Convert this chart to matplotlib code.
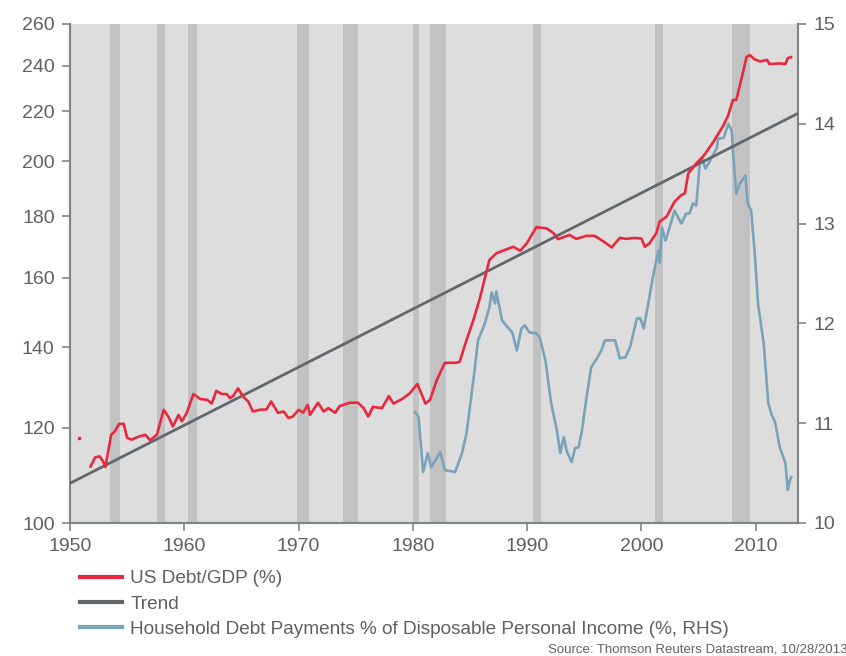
# US debt/GDP vs trend, with household debt payments on the right axis
import matplotlib
matplotlib.use('Agg')
import matplotlib.pyplot as plt
from matplotlib.lines import Line2D
from matplotlib.ticker import FixedLocator, FixedFormatter, NullLocator

plt.rcParams['font.family'] = ['Liberation Sans', 'DejaVu Sans']

# US Debt/GDP (%)
debt_years = [1951.8, 1952.2, 1952.6, 1952.9, 1953.1, 1953.6, 1953.9, 1954.3, 1954.7, 1955.0,
              1955.4, 1956.0, 1956.6, 1957.0, 1957.6, 1958.2, 1958.6, 1959.0, 1959.5, 1959.8,
              1960.2, 1960.8, 1961.4, 1962.0, 1962.4, 1962.8, 1963.3, 1963.7, 1964.0, 1964.3,
              1964.7, 1965.2, 1965.6, 1966.0, 1966.6, 1967.2, 1967.6, 1968.2, 1968.7, 1969.1,
              1969.5, 1970.0, 1970.4, 1970.8, 1971.0, 1971.7, 1972.2, 1972.6, 1973.2, 1973.6,
              1974.5, 1975.2, 1975.7, 1976.1, 1976.5, 1977.3, 1977.9, 1978.3, 1979.0, 1979.7,
              1980.4, 1981.1, 1981.5, 1982.1, 1982.8, 1983.8, 1984.1, 1984.7, 1985.3, 1985.9,
              1986.3, 1986.7, 1987.3, 1988.2, 1988.8, 1989.4, 1990.0, 1990.8, 1991.7, 1992.3,
              1992.7, 1993.7, 1994.3, 1995.2, 1995.9, 1996.7, 1997.4, 1998.1, 1998.7, 1999.4,
              2000.0, 2000.3, 2000.7, 2001.3, 2001.6, 2002.2, 2002.9, 2003.5, 2003.8, 2004.1,
              2004.8, 2005.4, 2006.3, 2007.2, 2007.6, 2008.0, 2008.3, 2008.8, 2009.2, 2009.5,
              2009.9, 2010.4, 2011.0, 2011.2, 2012.1, 2012.6, 2012.8, 2013.1]
debt_gdp = [111.4, 113.4, 113.6, 112.5, 111.3, 118.4, 119.1, 120.9, 120.9, 117.7,
            117.3, 118.0, 118.4, 117.2, 118.4, 124.2, 122.6, 120.3, 123.0, 121.5,
            123.4, 128.0, 126.8, 126.6, 125.7, 128.8, 128.0, 128.0, 127.0, 127.6,
            129.4, 127.2, 126.2, 123.8, 124.2, 124.3, 126.2, 123.5, 123.8, 122.3,
            122.6, 124.2, 123.5, 125.4, 123.0, 125.9, 123.8, 124.6, 123.5, 125.1,
            125.9, 125.9, 124.6, 122.6, 124.9, 124.6, 127.5, 125.7, 126.7, 128.1,
            130.5, 125.7, 126.6, 131.5, 135.9, 135.9, 136.2, 142.0, 147.5, 154.2,
            159.8, 165.5, 167.6, 168.9, 169.7, 168.4, 171.0, 176.2, 175.8, 174.2,
            172.2, 173.6, 172.3, 173.3, 173.3, 171.4, 169.5, 172.6, 172.3, 172.6,
            172.4, 169.7, 170.8, 174.2, 178.1, 179.8, 185.0, 187.4, 188.0, 195.3,
            199.1, 201.7, 207.5, 214.3, 218.4, 224.8, 224.8, 235.1, 244.2, 244.9,
            243.0, 242.0, 242.7, 240.8, 241.1, 240.8, 243.5, 244.0]

# stray first observation shown as a single dot
debt_dot_year = [1950.75]
debt_dot_val = [117.7]

# trend (straight on the log axis)
trend_years = [1950.0, 2013.7]
trend_vals = [107.9, 219.1]

# Household debt payments % of disposable personal income (RHS)
hh_years = [1980.2, 1980.5, 1980.9, 1981.3, 1981.6, 1982.4, 1982.8, 1983.7, 1984.3, 1984.7,
            1985.1, 1985.4, 1985.7, 1986.3, 1986.7, 1986.9, 1987.2, 1987.3, 1987.8, 1988.3,
            1988.7, 1989.1, 1989.5, 1989.8, 1990.2, 1990.8, 1991.1, 1991.6, 1992.1, 1992.6,
            1992.9, 1993.2, 1993.5, 1993.9, 1994.2, 1994.5, 1994.8, 1995.2, 1995.6, 1996.1,
            1996.5, 1996.8, 1997.4, 1997.7, 1998.1, 1998.6, 1999.0, 1999.6, 1999.9, 2000.2,
            2000.6, 2001.0, 2001.3, 2001.5, 2001.6, 2001.8, 2002.1, 2002.3, 2002.9, 2003.5,
            2003.9, 2004.2, 2004.5, 2004.8, 2005.1, 2005.3, 2005.6, 2006.0, 2006.6, 2006.7,
            2007.2, 2007.6, 2007.9, 2008.0, 2008.3, 2008.6, 2009.1, 2009.3, 2009.6, 2009.9,
            2010.2, 2010.7, 2011.1, 2011.4, 2011.7, 2012.1, 2012.6, 2012.8, 2013.0, 2013.1]
hh_payments = [11.11, 11.06, 10.51, 10.70, 10.56, 10.71, 10.53, 10.51, 10.70, 10.90,
               11.26, 11.53, 11.83, 12.00, 12.16, 12.31, 12.20, 12.32, 12.03, 11.96,
               11.91, 11.73, 11.95, 11.98, 11.91, 11.90, 11.86, 11.63, 11.20, 10.93,
               10.70, 10.86, 10.71, 10.61, 10.75, 10.76, 10.93, 11.26, 11.56, 11.65,
               11.73, 11.83, 11.83, 11.83, 11.65, 11.66, 11.76, 12.05, 12.05, 11.95,
               12.20, 12.46, 12.63, 12.73, 12.61, 12.96, 12.83, 12.90, 13.13, 13.00,
               13.10, 13.10, 13.20, 13.18, 13.60, 13.66, 13.55, 13.63, 13.76, 13.85,
               13.86, 14.00, 13.93, 13.73, 13.30, 13.40, 13.48, 13.20, 13.13, 12.73,
               12.20, 11.80, 11.20, 11.08, 11.01, 10.76, 10.60, 10.33, 10.43, 10.46]

# NBER recessions
recessions = [(1953.5, 1954.4), (1957.6, 1958.3), (1960.3, 1961.1), (1969.9, 1970.9),
              (1973.9, 1975.2), (1980.0, 1980.5), (1981.5, 1982.9), (1990.5, 1991.2),
              (2001.2, 2001.9), (2007.9, 2009.5)]

left_ticks = [100, 120, 140, 160, 180, 200, 220, 240, 260]
right_ticks = [10, 11, 12, 13, 14, 15]
x_ticks = [1950, 1960, 1970, 1980, 1990, 2000, 2010]

red = '#e8283c'
trend_col = '#62676b'
blue = '#7ba3b8'
text_col = '#606060'
spine_col = '#7f868a'

fig = plt.figure(figsize=(8.46, 6.56), dpi=100)
ax = fig.add_axes([70 / 846, 1 - 523 / 656, 728 / 846, 499 / 656])
ax2 = ax.twinx()

# background and recession bands live on the right-hand axes, which sits underneath
ax2.patch.set_visible(True)
ax2.patch.set_facecolor('#dddddd')
for start, end in recessions:
    ax2.axvspan(start, end, color='#c2c2c2', lw=0, zorder=0)
ax2.plot(hh_years, hh_payments, color=blue, lw=1.9, zorder=2)
ax2.set_ylim(10, 15)
ax.set_zorder(ax2.get_zorder() + 1)
ax.patch.set_visible(False)

ax.set_yscale('log')
ax.plot(trend_years, trend_vals, color=trend_col, lw=2, zorder=3)
ax.plot(debt_years, debt_gdp, color=red, lw=1.9, zorder=4)
ax.plot(debt_dot_year, debt_dot_val, 's', color=red, ms=2, zorder=4)
ax.set_ylim(100, 260)
ax.set_xlim(1950, 2013.7)
ax2.set_xlim(1950, 2013.7)

ax.yaxis.set_major_locator(FixedLocator(left_ticks))
ax.yaxis.set_major_formatter(FixedFormatter([str(t) for t in left_ticks]))
ax.yaxis.set_minor_locator(NullLocator())
ax.set_xticks(x_ticks)
ax2.set_yticks(right_ticks)

for a in (ax, ax2):
    a.spines['top'].set_visible(False)
    for s in ('left', 'right', 'bottom'):
        a.spines[s].set_color(spine_col)
        a.spines[s].set_linewidth(1.5)
    a.tick_params(colors=spine_col, labelcolor=text_col, length=6, width=1.2,
                  labelsize=14, direction='out', pad=5)

handles = [Line2D([], [], color=red, lw=3),
           Line2D([], [], color=trend_col, lw=3),
           Line2D([], [], color=blue, lw=3)]
labels = ['US Debt/GDP (%)', 'Trend',
          'Household Debt Payments % of Disposable Personal Income (%, RHS)']
leg = fig.legend(handles, labels, loc='upper left', bbox_to_anchor=(80 / 846, 1 - 570 / 656),
                 frameon=False, fontsize=13.7, handlelength=2.2, handletextpad=0.45,
                 labelspacing=0.42, borderpad=0, borderaxespad=0)
for t in leg.get_texts():
    t.set_color(text_col)

fig.text(548 / 846, 1 - 650 / 656, 'Source: Thomson Reuters Datastream, 10/28/2013',
         fontsize=9.5, color=text_col, ha='left', va='center')

fig.savefig('out.png', dpi=100)
